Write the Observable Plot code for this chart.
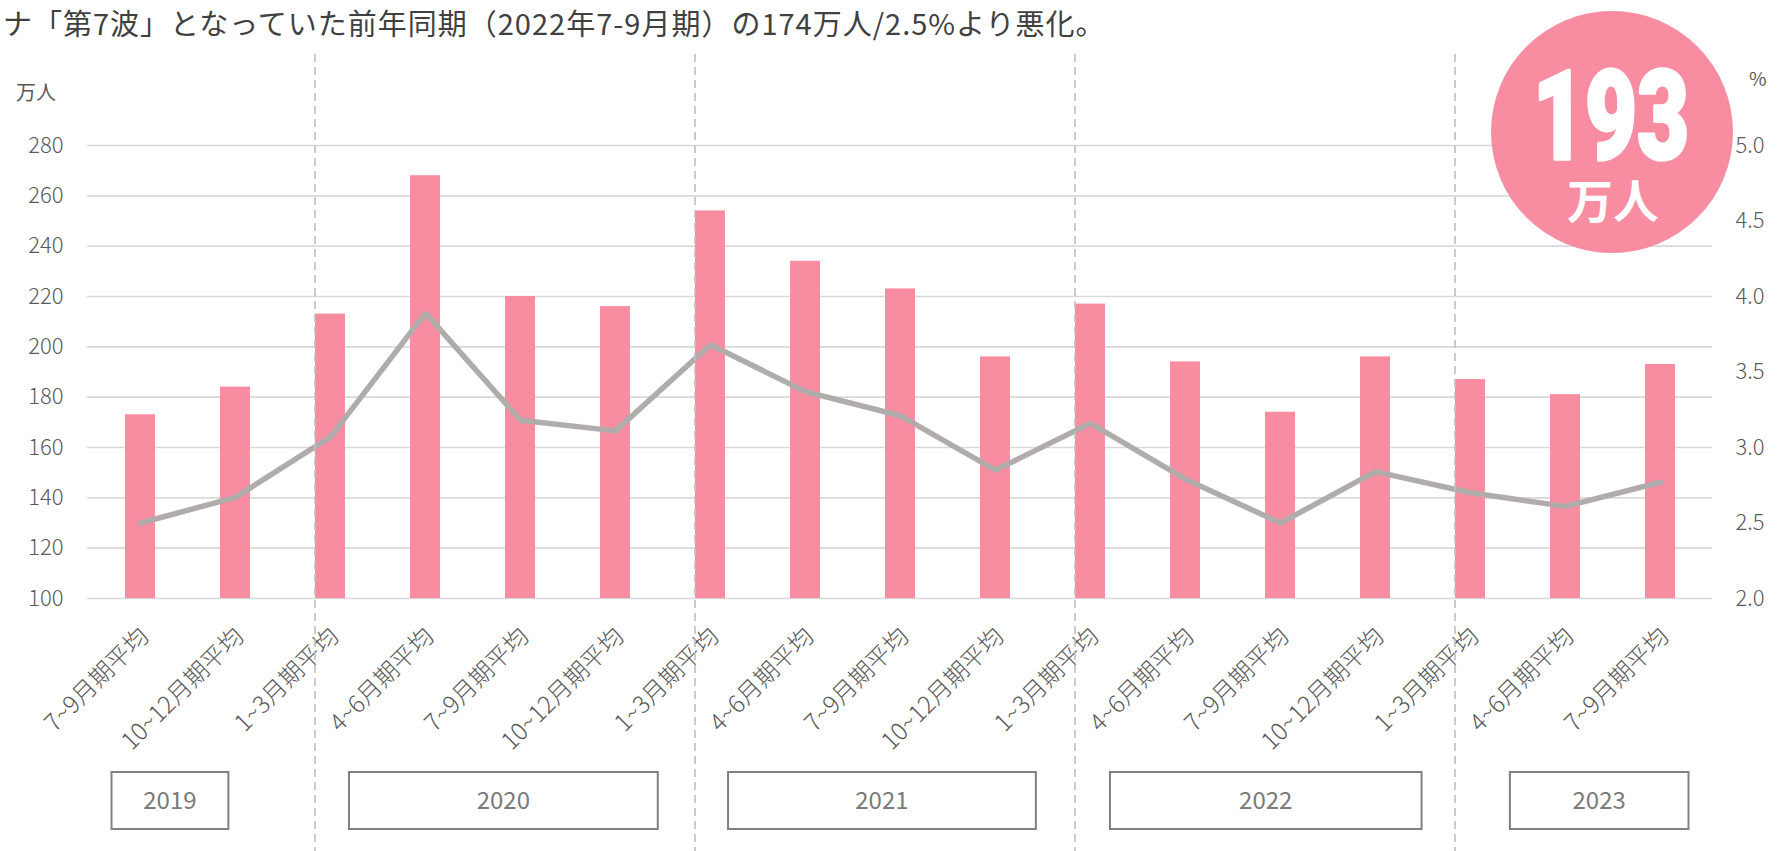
<!DOCTYPE html>
<html><head><meta charset="utf-8">
<script src="https://cdn.jsdelivr.net/npm/d3@7"></script>
<script src="https://cdn.jsdelivr.net/npm/@observablehq/plot@0.6"></script>
<style>
html,body{margin:0;padding:0;background:#fff;}
body{width:1779px;height:851px;overflow:hidden;position:relative;font-family:'Noto Sans CJK JP','Noto Sans',sans-serif;}
#title{height:45px;box-sizing:border-box;padding:6px 0 0 3px;font-size:29px;line-height:32px;letter-spacing:1px;color:#404040;white-space:nowrap;}
#chart svg{overflow:visible;display:block;}
#badge{position:absolute;left:1491px;top:11px;width:242px;height:242px;}
</style></head>
<body>
<div id="title"></div>
<div id="chart"></div>
<div id="badge"></div>
<script>
// ---- data ----
const subtitle = "ナ「第7波」となっていた前年同期（2022年7-9月期）の174万人/2.5%より悪化。";
const quarterLabels = ["7~9月期平均","10~12月期平均","1~3月期平均","4~6月期平均","7~9月期平均","10~12月期平均","1~3月期平均","4~6月期平均","7~9月期平均","10~12月期平均","1~3月期平均","4~6月期平均","7~9月期平均","10~12月期平均","1~3月期平均","4~6月期平均","7~9月期平均"];
const quarterYears = [2019,2019,2020,2020,2020,2020,2021,2021,2021,2021,2022,2022,2022,2022,2023,2023,2023];
const unemployed = [173,184,213,268,220,216,254,234,223,196,217,194,174,196,187,181,193]; // 万人
const unemploymentRate = [2.50,2.67,3.07,3.89,3.18,3.11,3.68,3.37,3.21,2.85,3.16,2.79,2.50,2.84,2.70,2.61,2.77]; // %
const leftTicks = [100,120,140,160,180,200,220,240,260,280];
const rightTicks = [2.0,2.5,3.0,3.5,4.0,4.5,5.0];
const years = [2019,2020,2021,2022,2023];
const leftUnit = "万人";
const rightUnit = "%";

// ---- layout / style ----
const FONT = "'Noto Sans CJK JP','Noto Sans',sans-serif";
const BAR = "#f88da1", LINE = "#b0acab", GRID = "#d9d9d9", TXT = "#595959";
const W = 1779, H = 806;
const yearBoxInset = {2019:[-0.30,-0.07],2020:[0.20,0.45],2021:[0.19,0.43],2022:[0.21,0.49],2023:[0.42,0.30]};
const rateToY = r => 100 + (r - 2) * 60;
const yToRate = v => (v - 100) / 60 + 2;

document.getElementById("title").textContent = subtitle;

const idx = d3.range(quarterLabels.length);
const chart = Plot.plot({
  width: W, height: H,
  marginTop: 100, marginBottom: 253, marginLeft: 87, marginRight: 67,
  style: {fontFamily: FONT, fontSize: "22px", color: TXT, background: "transparent", overflow: "visible"},
  x: {type: "band", domain: idx, paddingInner: 0.686, paddingOuter: 0.343},
  y: {domain: [100, 280]},
  marks: [
    Plot.gridY(leftTicks, {stroke: GRID, strokeOpacity: 1, strokeWidth: 1.6}),
    Plot.barY(idx, {x: i => i, y1: 100, y2: i => unemployed[i], fill: BAR}),
    Plot.line(idx, {x: i => i, y: i => rateToY(unemploymentRate[i]), stroke: LINE, strokeWidth: 5.5, strokeLinejoin: "miter", strokeLinecap: "round"}),
    Plot.axisY(leftTicks, {anchor: "left", tickSize: 0, tickPadding: 24, label: null, fontSize: 22, fontWeight: 300}),
    Plot.axisY(rightTicks.map(rateToY), {anchor: "right", tickSize: 0, tickPadding: 23, label: null, fontSize: 22, fontWeight: 300, tickFormat: v => yToRate(v).toFixed(1)}),
    Plot.axisX(idx, {anchor: "bottom", tickSize: 0, tickRotate: -45, tickPadding: 34, dx: 4, label: null, fontSize: 24, fontWeight: 300, tickFormat: i => quarterLabels[i]})
  ]
});
document.getElementById("chart").appendChild(chart);

// decorations drawn from the plot's own scales
const xs = chart.scale("x");
const step = xs.step, bw = xs.bandwidth;
const center = i => xs.apply(i) + bw / 2;
const svg = d3.select(chart);
const deco = svg.append("g").attr("text-anchor", "start");
// dashed year separators at the left edge of each 1~3月 bar
idx.filter(i => i > 0 && quarterYears[i] !== quarterYears[i - 1]).forEach(i => {
  deco.append("line").attr("x1", xs.apply(i)).attr("x2", xs.apply(i))
    .attr("y1", 9).attr("y2", H)
    .attr("stroke", "#bfbfbf").attr("stroke-width", 1.6).attr("stroke-dasharray", "8,5");
});
// year boxes
years.forEach(y => {
  const q = idx.filter(i => quarterYears[i] === y);
  const [l, r] = yearBoxInset[y];
  const x1 = center(q[0]) + l * step, x2 = center(q[q.length - 1]) + r * step;
  const top = H - 79, h = 57;
  deco.append("rect").attr("x", x1).attr("y", top).attr("width", x2 - x1).attr("height", h)
    .attr("fill", "#fff").attr("stroke", "#808080").attr("stroke-width", 2);
  deco.append("text").attr("x", (x1 + x2) / 2).attr("y", top + h / 2).attr("dy", "0.35em")
    .attr("text-anchor", "middle").attr("fill", "#7a7a7a").attr("font-size", 24)
    .attr("font-family", FONT).text(String(y));
});
// unit labels
deco.append("text").attr("x", 16).attr("y", 48).attr("dy", "0.35em").attr("fill", TXT)
  .attr("text-anchor", "start").attr("font-size", 20).attr("font-family", FONT).text(leftUnit);
deco.append("text").attr("x", 1749).attr("y", 34).attr("dy", "0.35em").attr("fill", TXT)
  .attr("text-anchor", "start").attr("font-size", 19).attr("font-family", FONT).text(rightUnit);

// badge with latest value
const badge = d3.select("#badge").append("svg").attr("width", 242).attr("height", 242);
badge.append("circle").attr("cx", 121).attr("cy", 121).attr("r", 121).attr("fill", BAR);
badge.append("text").attr("transform", "translate(120,148) scale(1,1.39)").attr("text-anchor", "middle")
  .attr("fill", "#fff").attr("stroke", "#fff").attr("stroke-width", 2.5).attr("stroke-linejoin", "round")
  .attr("font-family", "Roboto, 'DejaVu Sans', sans-serif").attr("font-weight", 900)
  .attr("font-size", 90)
  .text(String(unemployed[unemployed.length - 1]));
badge.append("text").attr("x", 122).attr("y", 191).attr("dy", "0.35em").attr("text-anchor", "middle")
  .attr("fill", "#fff").attr("font-family", FONT).attr("font-weight", 700)
  .attr("font-size", 46).text(leftUnit);
</script>
</body></html>
